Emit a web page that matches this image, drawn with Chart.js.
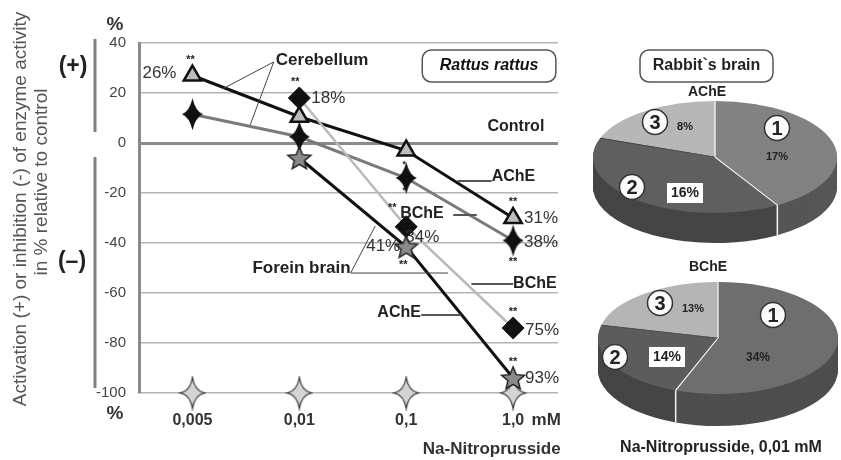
<!DOCTYPE html>
<html>
<head>
<meta charset="utf-8">
<script src="https://cdn.jsdelivr.net/npm/chart.js@4.4.1/dist/chart.umd.min.js"></script>
<style>
  html, body { margin: 0; padding: 0; background: #fff; }
  body { width: 841px; height: 460px; position: relative; overflow: hidden; }
  canvas { position: absolute; }
  #lineChart { left: 0; top: 0; }
  #pieAChE { left: 593px; top: 35px; }
  #pieBChE { left: 598px; top: 218px; }
</style>
</head>
<body>
<canvas id="lineChart" width="590" height="460"></canvas>
<canvas id="pieAChE" width="244" height="244"></canvas>
<canvas id="pieBChE" width="240" height="240"></canvas>
<script>
// --- datos ---
const concentrations = ['0,005', '0,01', '0,1', '1,0'];
const xIndex = [0, 1, 2, 3];
const cerebellumAChE = [27, 10.5, -3, -30];     // triángulos
const cerebellumBChE = [11.5, 2.5, -14, -39];   // cruces negras
const foreBrainBChE = [null, 18, -33.5, -74];   // rombos
const foreBrainAChE = [null, -6, -41.5, -94];   // estrellas
const controlLevel = [-100, -100, -100, -100];  // marcas de control
const yMin = -100, yMax = 40, yStep = 20;

const pieAChEValues = [17, 16, 8];
const pieAChELabels = ['17%', '16%', '8%'];
const pieBChEValues = [34, 14, 13];
const pieBChELabels = ['34%', '14%', '13%'];

const FONT = "'Liberation Sans', Arial, sans-serif";

// --- marcadores a medida ---
function sparkle(w, h, t, fill, stroke, core) {
    const c = document.createElement('canvas');
    c.width = w + 4; c.height = h + 4;
    const g = c.getContext('2d');
    const cx = c.width / 2, cy = c.height / 2, rx = w / 2, ry = h / 2;
    g.beginPath();
    g.moveTo(cx, cy - ry);
    g.quadraticCurveTo(cx + t, cy - t, cx + rx, cy);
    g.quadraticCurveTo(cx + t, cy + t, cx, cy + ry);
    g.quadraticCurveTo(cx - t, cy + t, cx - rx, cy);
    g.quadraticCurveTo(cx - t, cy - t, cx, cy - ry);
    g.closePath();
    g.fillStyle = fill; g.fill();
    if (stroke) { g.strokeStyle = stroke; g.lineWidth = 1.2; g.stroke(); }
    if (core) { g.beginPath(); g.arc(cx, cy, core, 0, Math.PI * 2); g.fill(); }
    return c;
}

function star5(r, fill, stroke) {
    const c = document.createElement('canvas');
    c.width = c.height = r * 2 + 4;
    const g = c.getContext('2d');
    const cx = c.width / 2, cy = c.height / 2 + 1;
    g.beginPath();
    for (let i = 0; i < 10; i++) {
        const rr = i % 2 ? r * 0.45 : r;
        const a = -Math.PI / 2 + i * Math.PI / 5;
        g.lineTo(cx + rr * Math.cos(a), cy + rr * Math.sin(a));
    }
    g.closePath();
    g.fillStyle = fill; g.fill();
    g.strokeStyle = stroke; g.lineWidth = 1.5; g.stroke();
    return c;
}

const blackCross = sparkle(21, 32, 3, '#111', null, 5);
const greySparkle = sparkle(24, 31, 2.2, '#d4d4d4', '#333', 0);
const greyStar = star5(12, '#8a8a8a', '#222');

const pts = (arr) => xIndex.map((x, i) => ({ x, y: arr[i] })).filter(p => p.y !== null);

// --- anotaciones del gráfico de líneas ---
const lineNotes = {
    id: 'lineNotes',
    afterDraw(chart) {
        const { ctx, chartArea, scales: { x, y } } = chart;
        const X = v => x.getPixelForValue(v);
        const Y = v => y.getPixelForValue(v);

        const text = (s, px, py, size, opts = {}) => {
            ctx.font = `${opts.italic ? 'italic ' : ''}${opts.bold === false ? '' : 'bold '}${size}px ${FONT}`;
            ctx.fillStyle = opts.color || '#222';
            ctx.textAlign = opts.align || 'center';
            ctx.textBaseline = 'middle';
            ctx.fillText(s, px, py);
        };
        const line = (x1, y1, x2, y2, w, col) => {
            ctx.beginPath(); ctx.moveTo(x1, y1); ctx.lineTo(x2, y2);
            ctx.lineWidth = w; ctx.strokeStyle = col; ctx.stroke();
        };
        // etiqueta relativa a un punto de datos
        const at = (s, i, v, dx, dy, size, opts) => text(s, X(i) + dx, Y(v) + dy, size, opts);

        ctx.save();

        // eje izquierdo: títulos, barras y signos
        ctx.save();
        ctx.translate(21, Y(-26.4));
        ctx.rotate(-Math.PI / 2);
        text('Activation (+) or inhibition (-) of enzyme activity', 0, 0, 19, { bold: false, color: '#555' });
        ctx.restore();
        ctx.save();
        ctx.translate(42, Y(-15.6));
        ctx.rotate(-Math.PI / 2);
        text('in % relative to control', 0, 0, 19, { bold: false, color: '#555' });
        ctx.restore();

        const left = chartArea.left;
        line(left - 44, Y(41.6), left - 44, Y(4.4), 3, '#808080');
        line(left - 44, Y(-5.6), left - 44, Y(-98), 3, '#808080');
        text('(+)', left - 66, Y(30.4), 23, { color: '#222' });
        text('(–)', left - 67, Y(-47.6), 23, { color: '#222' });
        text('%', left - 24, Y(47.2), 19, { color: '#333' });
        text('%', left - 24, Y(-108.4), 19, { color: '#333' });

        // eje x
        text('mM', X(3.31), Y(-110.8), 17, { color: '#333' });
        text('Na-Nitroprusside', X(2.8), Y(-122.4), 17, { color: '#333' });

        // cuadro de especie
        const bx1 = X(2.15), bx2 = X(3.40), by1 = Y(37.2), by2 = Y(24.4);
        ctx.beginPath();
        ctx.roundRect(bx1, by1, bx2 - bx1, by2 - by1, 9);
        ctx.fillStyle = '#fff'; ctx.fill();
        ctx.lineWidth = 1.5; ctx.strokeStyle = '#555'; ctx.stroke();
        text('Rattus rattus', (bx1 + bx2) / 2, (by1 + by2) / 2, 16, { italic: true, color: '#111' });

        // Cerebellum y líneas guía
        text('Cerebellum', X(0.78), Y(33.2), 17, { align: 'left', color: '#222' });
        line(X(0.76), Y(32.4), X(0.28), Y(21.6), 1, '#444');
        line(X(0.76), Y(32.4), X(0.54), Y(7.2), 1, '#444');

        text('Control', X(2.76), Y(6.4), 16, { align: 'left', color: '#222' });

        text('AChE', X(2.8), Y(-13.6), 16, { align: 'left', color: '#222' });
        line(X(2.48), Y(-15.2), X(2.8), Y(-15.2), 2, '#555');

        text('BChE', X(3.0), Y(-56.4), 16, { align: 'left', color: '#222' });
        line(X(2.61), Y(-56.4), X(3.0), Y(-56.4), 2, '#555');

        text('AChE', X(1.73), Y(-68), 16, { align: 'left', color: '#222' });
        line(X(2.14), Y(-68.8), X(2.51), Y(-68.8), 2, '#555');

        text('Forein brain', X(1.48), Y(-50), 17, { align: 'right', color: '#222' });
        line(X(1.48), Y(-52), X(1.71), Y(-33.2), 1, '#444');
        line(X(1.48), Y(-52), X(2.39), Y(-52), 1, '#444');

        // porcentajes y asteriscos junto a los puntos
        const pct = { bold: false, color: '#333' };
        at('**', 0, cerebellumAChE[0], -2, -16, 11);
        at('26%', 0, cerebellumAChE[0], -33, -2, 17, pct);
        at('**', 1, foreBrainBChE[1], -4, -16, 11);
        at('18%', 1, foreBrainBChE[1], 12, 0, 17, { ...pct, align: 'left' });

        at('*', 2, cerebellumBChE[2], -2, -13, 9);
        at('*', 2, cerebellumBChE[2], -2, 13, 9);
        at('**', 2, foreBrainBChE[2], -14, -19, 11);
        at('BChE', 2, foreBrainBChE[2], -6, -13, 16, { align: 'left', color: '#222' });
        line(X(2.44), Y(-28.8), X(2.66), Y(-28.8), 2, '#555');
        at('34%', 2, foreBrainBChE[2], -1, 11, 17, { ...pct, align: 'left' });
        at('41%', 2, foreBrainAChE[2], -23, 0, 17, pct);
        at('**', 2, foreBrainAChE[2], -3, 18, 11);

        at('**', 3, cerebellumAChE[3], 0, -16, 11);
        at('31%', 3, cerebellumAChE[3], 11, 0, 17, { ...pct, align: 'left' });
        at('38%', 3, cerebellumBChE[3], 11, 2, 17, { ...pct, align: 'left' });
        at('**', 3, cerebellumBChE[3], 0, 21, 11);
        at('**', 3, foreBrainBChE[3], 0, -16, 11);
        at('75%', 3, foreBrainBChE[3], 12, 2, 17, { ...pct, align: 'left' });
        at('**', 3, foreBrainAChE[3], 0, -16, 11);
        at('93%', 3, foreBrainAChE[3], 12, 0, 17, { ...pct, align: 'left' });

        ctx.restore();
    }
};

new Chart(document.getElementById('lineChart'), {
    type: 'line',
    data: {
        datasets: [
            {
                label: 'Forein brain AChE',
                data: pts(foreBrainAChE),
                borderColor: '#111', borderWidth: 3,
                pointStyle: greyStar
            },
            {
                label: 'Forein brain BChE',
                data: pts(foreBrainBChE),
                borderColor: '#b9b9b9', borderWidth: 2.5,
                pointStyle: 'rectRot', pointRadius: 11,
                pointBackgroundColor: '#111', pointBorderColor: '#111', pointBorderWidth: 1
            },
            {
                label: 'Cerebellum AChE',
                data: pts(cerebellumAChE),
                borderColor: '#111', borderWidth: 3,
                pointStyle: 'triangle', pointRadius: 10,
                pointBackgroundColor: '#bdbdbd', pointBorderColor: '#111', pointBorderWidth: 2.5
            },
            {
                label: 'Cerebellum BChE',
                data: pts(cerebellumBChE),
                borderColor: '#7a7a7a', borderWidth: 3,
                pointStyle: blackCross
            },
            {
                label: 'Control',
                data: pts(controlLevel),
                showLine: false,
                clip: false,
                pointStyle: greySparkle
            }
        ]
    },
    options: {
        responsive: false,
        animation: false,
        events: [],
        layout: { padding: { top: 43, right: 32, left: 0, bottom: 0 } },
        plugins: { legend: { display: false }, tooltip: { enabled: false } },
        scales: {
            x: {
                type: 'linear',
                min: -0.5, max: 3.42,
                afterBuildTicks: (s) => { s.ticks = xIndex.map(v => ({ value: v })); },
                afterFit: (s) => { s.height = 67; },
                grid: { display: false, drawTicks: false },
                border: { display: false },
                ticks: {
                    padding: 18,
                    color: '#333',
                    font: { family: FONT, size: 16, weight: 'bold' },
                    callback: (v) => concentrations[v]
                }
            },
            y: {
                min: yMin, max: yMax,
                afterFit: (s) => { s.width = 139; },
                grid: {
                    drawTicks: false,
                    color: (c) => c.tick.value === 0 ? '#8a8a8a' : '#b3b3b3',
                    lineWidth: (c) => c.tick.value === 0 ? 3 : 1.5
                },
                border: { color: '#8a8a8a', width: 3 },
                ticks: {
                    stepSize: yStep,
                    padding: 13,
                    color: '#444',
                    font: { family: FONT, size: 15 }
                }
            }
        }
    },
    plugins: [lineNotes]
});

// --- tartas en perspectiva ---
const tilt = {
    id: 'tilt',
    beforeDatasetsDraw(chart, args, opts) {
        const ctx = chart.ctx;
        const arcs = chart.getDatasetMeta(0).data;
        const a = arcs[0];
        const k = opts.ry / a.outerRadius;
        ctx.save();
        ctx.translate(a.x, a.y); ctx.scale(1, k); ctx.translate(-a.x, -a.y);
        for (let d = opts.depth; d > 0; d--) {
            arcs.forEach((arc, i) => {
                ctx.fillStyle = opts.side[i];
                ctx.beginPath();
                ctx.moveTo(arc.x, arc.y + d / k);
                ctx.arc(arc.x, arc.y + d / k, arc.outerRadius, arc.startAngle, arc.endAngle);
                ctx.closePath();
                ctx.fill();
            });
        }
    },
    afterDatasetsDraw(chart, args, opts) {
        const ctx = chart.ctx;
        const arcs = chart.getDatasetMeta(0).data;
        // costuras sobre la cara superior
        arcs.forEach((arc, i) => {
            ctx.beginPath();
            ctx.moveTo(arc.x, arc.y);
            ctx.lineTo(arc.x + arc.outerRadius * Math.cos(arc.startAngle), arc.y + arc.outerRadius * Math.sin(arc.startAngle));
            ctx.lineWidth = 1.5; ctx.strokeStyle = opts.seams[i]; ctx.stroke();
        });
        ctx.restore();
        // costura blanca en el lateral
        const k = opts.ry / arcs[0].outerRadius;
        arcs.forEach((arc) => {
            const s = arc.startAngle;
            const sn = Math.sin(s), cs = Math.cos(s);
            if (sn > 0.05) {
                const px = arc.x + arc.outerRadius * cs;
                const py = arc.y + arc.outerRadius * sn * k;
                ctx.beginPath(); ctx.moveTo(px, py); ctx.lineTo(px, py + opts.depth);
                ctx.lineWidth = 1.5; ctx.strokeStyle = '#f4f4f4'; ctx.stroke();
            }
        });
    },
    afterDraw(chart, args, opts) {
        const ctx = chart.ctx;
        const ox = chart.canvas.offsetLeft, oy = chart.canvas.offsetTop;
        const text = (s, px, py, size, col) => {
            ctx.font = `bold ${size}px ${FONT}`;
            ctx.fillStyle = col || '#222';
            ctx.textAlign = 'center'; ctx.textBaseline = 'middle';
            ctx.fillText(s, px - ox, py - oy);
        };
        if (opts.box) {
            const b = opts.box;
            ctx.beginPath();
            ctx.roundRect(b.x1 - ox, b.y1 - oy, b.x2 - b.x1, b.y2 - b.y1, 9);
            ctx.fillStyle = '#fff'; ctx.fill();
            ctx.lineWidth = 1.5; ctx.strokeStyle = '#555'; ctx.stroke();
            text(b.text, (b.x1 + b.x2) / 2, (b.y1 + b.y2) / 2, 16, '#222');
        }
        opts.texts.forEach(t => text(t.s, t.x, t.y, t.size, t.color));
        opts.circles.forEach(c => {
            ctx.beginPath(); ctx.arc(c.x - ox, c.y - oy, 12.5, 0, Math.PI * 2);
            ctx.fillStyle = '#fafafa'; ctx.fill();
            ctx.lineWidth = 1.5; ctx.strokeStyle = '#333'; ctx.stroke();
            text(c.s, c.x, c.y + 1, 20, '#222');
        });
        opts.pcts.forEach(p => {
            if (p.boxed) {
                ctx.fillStyle = '#fff';
                ctx.fillRect(p.x - 18 - ox, p.y - 10 - oy, 36, 20);
            }
            text(p.s, p.x, p.y, p.size, '#222');
        });
    }
};

function pie(id, values, colors, tiltOpts) {
    return new Chart(document.getElementById(id), {
        type: 'pie',
        data: {
            labels: ['1', '2', '3'],
            datasets: [{ data: values, backgroundColor: colors, borderWidth: 0, hoverOffset: 0, offset: 0 }]
        },
        options: {
            responsive: false,
            animation: false,
            events: [],
            layout: { padding: 0 },
            plugins: { legend: { display: false }, tooltip: { enabled: false }, tilt: tiltOpts }
        },
        plugins: [tilt]
    });
}

pie('pieAChE', pieAChEValues, ['#828282', '#5f5f5f', '#b7b7b7'], {
    ry: 56, depth: 30,
    side: ['#565656', '#454545', '#8a8a8a'],
    seams: ['#e8e8e8', '#f4f4f4', '#333'],
    box: { x1: 640, y1: 50, x2: 773, y2: 82, text: 'Rabbit`s brain' },
    texts: [{ s: 'AChE', x: 707, y: 92, size: 14 }],
    circles: [{ s: '1', x: 777, y: 128 }, { s: '2', x: 632, y: 187 }, { s: '3', x: 655, y: 122 }],
    pcts: [
        { s: pieAChELabels[0], x: 777, y: 157, size: 11 },
        { s: pieAChELabels[1], x: 685, y: 193, size: 14, boxed: true },
        { s: pieAChELabels[2], x: 685, y: 127, size: 11 }
    ]
});

pie('pieBChE', pieBChEValues, ['#6e6e6e', '#5c5c5c', '#b5b5b5'], {
    ry: 56, depth: 32,
    side: ['#4e4e4e', '#454545', '#8a8a8a'],
    seams: ['#e8e8e8', '#f4f4f4', '#333'],
    texts: [
        { s: 'BChE', x: 708, y: 267, size: 14 },
        { s: 'Na-Nitroprusside, 0,01 mM', x: 721, y: 448, size: 16 }
    ],
    circles: [{ s: '1', x: 773, y: 315 }, { s: '2', x: 615, y: 357 }, { s: '3', x: 660, y: 303 }],
    pcts: [
        { s: pieBChELabels[0], x: 758, y: 358, size: 12 },
        { s: pieBChELabels[1], x: 667, y: 357, size: 14, boxed: true },
        { s: pieBChELabels[2], x: 693, y: 309, size: 11 }
    ]
});
</script>
</body>
</html>
